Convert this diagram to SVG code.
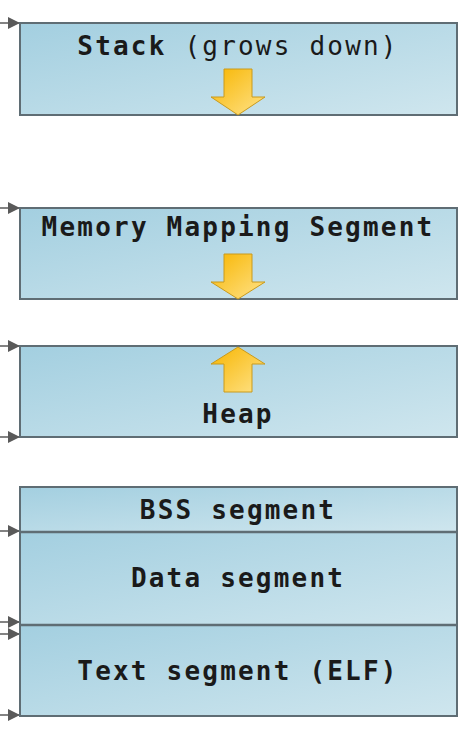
<svg xmlns="http://www.w3.org/2000/svg" width="474" height="735" viewBox="0 0 474 735">
<defs>
<linearGradient id="box" x1="0" y1="0" x2="1" y2="1">
<stop offset="0" stop-color="#a3cfe0"/>
<stop offset="1" stop-color="#cfe6ee"/>
</linearGradient>
<linearGradient id="gold" x1="0" y1="0" x2="1" y2="1">
<stop offset="0" stop-color="#f7b500"/>
<stop offset="1" stop-color="#ffe38a"/>
</linearGradient>
<marker id="tri" markerWidth="12" markerHeight="12" refX="11" refY="6" orient="auto" markerUnits="userSpaceOnUse">
<path d="M0,0 L12,6 L0,12 Z" fill="#5a5a5a"/>
</marker>
</defs>
<style>
.box{fill:url(#box);stroke:#5f6d74;stroke-width:2}
.sep{stroke:#5f6d74;stroke-width:2.5}
.lbl{font-family:"DejaVu Sans Mono","Liberation Mono",monospace;font-size:26px;letter-spacing:2.2px;fill:#1a1a1a;text-anchor:middle;font-weight:bold}
.n{font-weight:normal}
.arr{fill:url(#gold);stroke:#c99a1c;stroke-width:1}
.con{stroke:#5a5a5a;stroke-width:1.5;fill:none;marker-end:url(#tri)}
</style>
<g id="connectors">
<path class="con" d="M0,23 L19,23"/>
<path class="con" d="M0,208 L19,208"/>
<path class="con" d="M0,346 L19,346"/>
<path class="con" d="M0,437 L19,437"/>
<path class="con" d="M0,531 L19,531"/>
<path class="con" d="M0,622 L19,622"/>
<path class="con" d="M0,634 L19,634"/>
<path class="con" d="M0,715 L19,715"/>
</g>
<g id="stack">
<rect class="box" x="20" y="23" width="437" height="92"/>
<text class="lbl" x="238" y="55">Stack<tspan class="n"> (grows down)</tspan></text>
<path class="arr" d="M224,69 L252,69 L252,97 L265,97 L238,115 L211,97 L224,97 Z"/>
</g>
<g id="mms">
<rect class="box" x="20" y="208" width="437" height="91"/>
<text class="lbl" x="238" y="236">Memory Mapping Segment</text>
<path class="arr" d="M224,254 L252,254 L252,282 L265,282 L238,299 L211,282 L224,282 Z"/>
</g>
<g id="heap">
<rect class="box" x="20" y="346" width="437" height="91"/>
<path class="arr" d="M238,347 L265,364 L252,364 L252,392 L224,392 L224,364 L211,364 Z"/>
<text class="lbl" x="238" y="423">Heap</text>
</g>
<g id="bss">
<rect class="box" x="20" y="487" width="437" height="45"/>
<text class="lbl" x="238" y="519">BSS segment</text>
</g>
<g id="data">
<rect class="box" x="20" y="532" width="437" height="93"/>
<text class="lbl" x="238" y="587">Data segment</text>
</g>
<g id="text">
<rect class="box" x="20" y="625" width="437" height="91"/>
<text class="lbl" x="238" y="680">Text segment (ELF)</text>
</g>
<line class="sep" x1="20" y1="532" x2="457" y2="532"/>
<line class="sep" x1="20" y1="625" x2="457" y2="625"/>
</svg>
